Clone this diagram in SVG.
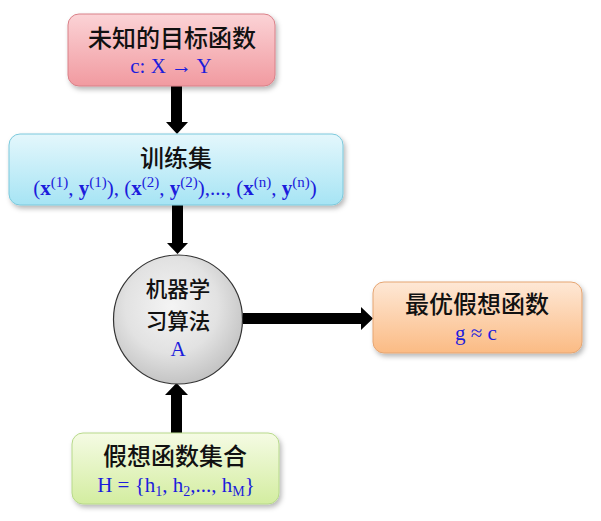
<svg xmlns="http://www.w3.org/2000/svg" width="601" height="521" viewBox="0 0 601 521">
<defs>
<linearGradient id="gPink" x1="0" y1="0" x2="0" y2="1"><stop offset="0" stop-color="#fbd3d6"/><stop offset="1" stop-color="#f19aa0"/></linearGradient>
<linearGradient id="gCyan" x1="0" y1="0" x2="0" y2="1"><stop offset="0" stop-color="#e4f7fc"/><stop offset="1" stop-color="#a6e4f4"/></linearGradient>
<linearGradient id="gOrange" x1="0" y1="0" x2="0" y2="1"><stop offset="0" stop-color="#fee8d6"/><stop offset="1" stop-color="#fbbb84"/></linearGradient>
<linearGradient id="gGreen" x1="0" y1="0" x2="0" y2="1"><stop offset="0" stop-color="#f5fbe4"/><stop offset="1" stop-color="#d3eda0"/></linearGradient>
<radialGradient id="gGray" cx="0.45" cy="0.4" r="0.6"><stop offset="0" stop-color="#f4f4f4"/><stop offset="0.6" stop-color="#e2e2e2"/><stop offset="1" stop-color="#c4c4c4"/></radialGradient>
<filter id="sh" x="-10%" y="-10%" width="125%" height="130%"><feDropShadow dx="2" dy="3" stdDeviation="2.5" flood-color="#000" flood-opacity="0.28"/></filter>
</defs>
<style>
.cn{font-family:"Noto Sans CJK SC","Noto Sans",sans-serif;font-size:24px;font-weight:500;fill:#111;text-anchor:middle}
.cc{font-size:21.5px}
.m{font-family:"Liberation Serif","DejaVu Serif",serif;font-size:21px;fill:#1c1cdc;text-anchor:middle}
.arr{fill:#000}
</style>
<rect width="601" height="521" fill="#ffffff"/>
<g id="connectors">
<path class="arr" d="M171,86 H182 V122 H188 L177,134 L166,122 H171 Z"/>
<path class="arr" d="M172,205 H183 V243 H188 L177.5,254 L167,243 H172 Z"/>
<path class="arr" d="M243,313 H361 V307 L373,318.5 L361,330 V324 H243 Z"/>
<path class="arr" d="M171,433 V395 H165 L176.5,383 L188,395 H182 V433 Z"/>
</g>
<g id="target">
<rect x="68" y="14" width="207" height="72" rx="11" fill="url(#gPink)" stroke="#d98088" stroke-width="1" filter="url(#sh)"/>
<text class="cn" x="172" y="47">未知的目标函数</text>
<text class="m" x="171" y="73">c: X → Y</text>
</g>
<g id="trainset">
<rect x="9" y="134" width="334" height="71" rx="11" fill="url(#gCyan)" stroke="#7cc9dc" stroke-width="1" filter="url(#sh)"/>
<text class="cn" x="176" y="167">训练集</text>
<text class="m" x="175" y="195" font-size="22.5">(<tspan font-weight="bold">x</tspan><tspan font-size="15" dy="-8">(1)</tspan><tspan dy="8">, </tspan><tspan font-weight="bold">y</tspan><tspan font-size="15" dy="-8">(1)</tspan><tspan dy="8">), (</tspan><tspan font-weight="bold">x</tspan><tspan font-size="15" dy="-8">(2)</tspan><tspan dy="8">, </tspan><tspan font-weight="bold">y</tspan><tspan font-size="15" dy="-8">(2)</tspan><tspan dy="8">),..., (</tspan><tspan font-weight="bold">x</tspan><tspan font-size="15" dy="-8">(n)</tspan><tspan dy="8">, </tspan><tspan font-weight="bold">y</tspan><tspan font-size="15" dy="-8">(n)</tspan><tspan dy="8">)</tspan></text>
</g>
<g id="algorithm">
<circle cx="178" cy="319.5" r="64.5" fill="url(#gGray)" stroke="#333" stroke-width="1.2"/>
<text class="cn cc" x="178" y="297">机器学</text>
<text class="cn cc" x="178" y="328.5">习算法</text>
<text class="m" x="178" y="356">A</text>
</g>
<g id="best">
<rect x="373" y="282" width="209" height="71" rx="11" fill="url(#gOrange)" stroke="#e5a572" stroke-width="1" filter="url(#sh)"/>
<text class="cn" x="477" y="313">最优假想函数</text>
<text class="m" x="476" y="340">g ≈ c</text>
</g>
<g id="hypset">
<rect x="72" y="433" width="207" height="71" rx="11" fill="url(#gGreen)" stroke="#b7d98a" stroke-width="1" filter="url(#sh)"/>
<text class="cn" x="175" y="465">假想函数集合</text>
<text class="m" x="176" y="492">H = {h<tspan font-size="14" dy="4">1</tspan><tspan dy="-4">, h</tspan><tspan font-size="14" dy="4">2</tspan><tspan dy="-4">,..., h</tspan><tspan font-size="14" dy="4">M</tspan><tspan dy="-4">}</tspan></text>
</g>
</svg>
